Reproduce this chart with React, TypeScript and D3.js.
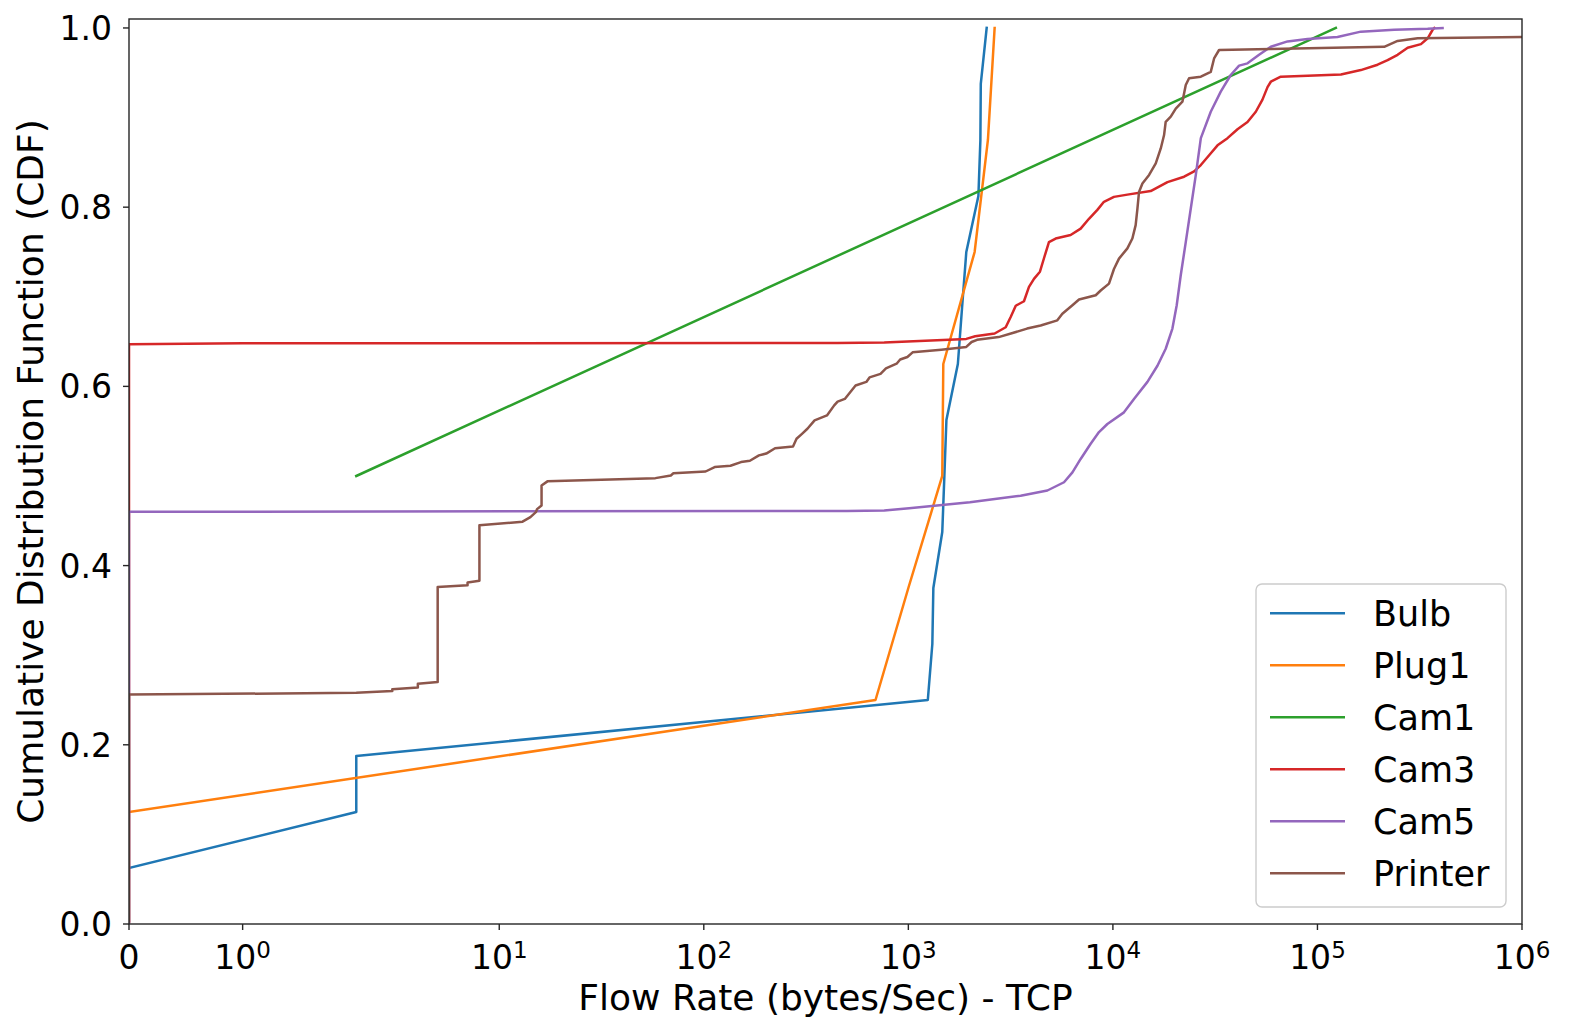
import React, { useEffect, useRef } from 'react';
import * as d3 from 'd3';

// CDF samples (x = bytes/sec, y = cumulative fraction)
const bulbX = [0, 2, 2, 1245, 1310, 1325, 1465, 1500, 1535, 1746, 1830, 1920, 2200, 2250, 2260, 2415];
const bulbY = [0.0625, 0.125, 0.1875, 0.25, 0.3125, 0.375, 0.4375, 0.5, 0.5625, 0.625, 0.6875, 0.75, 0.8125, 0.875, 0.9375, 1.0];

const plugX = [0, 691, 1000, 1465, 1482, 2109, 2449, 2641];
const plugY = [0.125, 0.25, 0.375, 0.5, 0.625, 0.75, 0.875, 1.0];

const cam1X = [2, 123000];
const cam1Y = [0.5, 1.0];

const cam3X = [0, 0, 1, 450, 762, 1920, 2122, 2642, 2992, 3164, 3350, 3675, 3888, 4113, 4399, 4603, 4868, 5249, 6214, 6956, 7639, 8395, 9040, 10120, 11770, 15300, 18480, 22290, 24950, 26910, 29540, 32470, 36330, 40660, 45500, 49960, 53850, 57000, 59160, 66200, 130300, 163000, 196800, 220300, 246500, 276000, 320700, 345900, 365800, 372700];
const cam3Y = [0.002, 0.647, 0.648, 0.6485, 0.649, 0.653, 0.656, 0.659, 0.666, 0.6775, 0.69, 0.695, 0.711, 0.72, 0.728, 0.743, 0.761, 0.765, 0.769, 0.776, 0.787, 0.797, 0.806, 0.8115, 0.814, 0.818, 0.828, 0.834, 0.84, 0.847, 0.858, 0.869, 0.877, 0.887, 0.895, 0.9065, 0.92, 0.934, 0.94, 0.9456, 0.948, 0.953, 0.959, 0.964, 0.97, 0.978, 0.982, 0.9885, 0.998, 1.0];

const cam5X = [0, 0, 500, 762, 1009, 2000, 2826, 3539, 4784, 5768, 6341, 6956, 7786, 8551, 9398, 11330, 12680, 14750, 16510, 18120, 19540, 20510, 21460, 22710, 24030, 25430, 26910, 30090, 33670, 37670, 41400, 45500, 51840, 59160, 71420, 89400, 125300, 163000, 237300, 345900, 409000];
const cam5Y = [0.002, 0.46, 0.461, 0.4615, 0.464, 0.4708, 0.4752, 0.478, 0.4838, 0.493, 0.504, 0.519, 0.536, 0.549, 0.558, 0.571, 0.586, 0.605, 0.623, 0.642, 0.6645, 0.6905, 0.724, 0.761, 0.7985, 0.836, 0.877, 0.9065, 0.929, 0.9475, 0.958, 0.9605, 0.97, 0.979, 0.985, 0.9877, 0.99, 0.9959, 0.998, 0.999, 1.0];

const printerX = [0, 0, 2, 3, 3, 4, 4, 5, 5, 7, 7, 8, 8, 13, 14.2, 15.1, 15.3, 16.1, 16.1, 17.2, 58, 69, 71, 102, 113, 135, 152, 168, 186, 202, 223, 273, 284, 302, 321, 348, 400, 434, 451, 489, 552, 623, 646, 731, 777, 876, 912, 989, 1049, 1449, 1920, 2038, 2167, 2763, 3234, 3805, 4434, 5350, 5660, 6340, 6830, 8240, 8715, 9570, 10120, 10710, 11770, 12450, 12920, 13180, 13420, 13940, 15030, 16200, 17140, 17790, 18120, 19180, 20290, 21870, 22710, 23570, 26910, 30090, 31240, 33040, 59160, 212000, 246500, 309000, 1000000];
const printerY = [0.003, 0.256, 0.258, 0.26, 0.262, 0.264, 0.268, 0.27, 0.376, 0.378, 0.381, 0.383, 0.445, 0.449, 0.454, 0.4596, 0.463, 0.467, 0.4894, 0.494, 0.4976, 0.5006, 0.503, 0.505, 0.51, 0.5114, 0.5155, 0.517, 0.523, 0.525, 0.531, 0.533, 0.5415, 0.547, 0.5527, 0.562, 0.5676, 0.5788, 0.583, 0.586, 0.601, 0.605, 0.61, 0.614, 0.62, 0.6253, 0.63, 0.6328, 0.638, 0.641, 0.644, 0.6495, 0.652, 0.655, 0.6596, 0.6645, 0.668, 0.6737, 0.681, 0.6905, 0.697, 0.7017, 0.707, 0.7147, 0.731, 0.7426, 0.754, 0.765, 0.78, 0.7985, 0.817, 0.8265, 0.836, 0.8488, 0.8655, 0.8805, 0.8953, 0.901, 0.91, 0.9177, 0.9363, 0.9438, 0.9456, 0.951, 0.966, 0.9754, 0.9765, 0.979, 0.9855, 0.9885, 0.99];

const seriesNames = ['Bulb', 'Plug1', 'Cam1', 'Cam3', 'Cam5', 'Printer'];
const seriesX = [bulbX, plugX, cam1X, cam3X, cam5X, printerX];
const seriesY = [bulbY, plugY, cam1Y, cam3Y, cam5Y, printerY];
const colors = ['#1f77b4', '#ff7f0e', '#2ca02c', '#d62728', '#9467bd', '#8c564b'];

const xTicks = [0, 1, 10, 100, 1000, 10000, 100000, 1000000];
const yTicks = [0, 0.2, 0.4, 0.6, 0.8, 1.0];

const WIDTH = 1570;
const HEIGHT = 1033;
const FONT = '"DejaVu Sans", sans-serif';

// matplotlib-style symlog (linthresh 2, linscale 1)
const LINTHRESH = 2;
const LINSCALE_ADJ = 1 / (1 - 1 / 10);
const symlog = (v: number) => {
  const a = Math.abs(v);
  if (a <= LINTHRESH) return v * LINSCALE_ADJ;
  return Math.sign(v) * LINTHRESH * (LINSCALE_ADJ + Math.log10(a / LINTHRESH));
};

const App: React.FC = () => {
  const svgRef = useRef<SVGSVGElement>(null);

  useEffect(() => {
    if (!svgRef.current) return;
    const svg = d3.select(svgRef.current);
    svg.selectAll('*').remove();

    const left = 129, right = 1522, top = 19, bottom = 924;

    const xLin = d3.scaleLinear().domain([symlog(0), symlog(1e6)]).range([left, right]);
    const x = (v: number) => xLin(symlog(v));
    const y = d3.scaleLinear().domain([0, 1.01]).range([bottom, top]);

    svg.append('rect').attr('width', WIDTH).attr('height', HEIGHT).attr('fill', '#fff');

    svg.append('defs').append('clipPath').attr('id', 'plot-clip')
      .append('rect')
      .attr('x', left).attr('y', top)
      .attr('width', right - left).attr('height', bottom - top);

    // Lines
    const line = d3.line<[number, number]>()
      .x(d => x(d[0]))
      .y(d => y(d[1]));

    const plot = svg.append('g').attr('clip-path', 'url(#plot-clip)');
    seriesX.forEach((xs, i) => {
      const pts: [number, number][] = xs.map((v, j) => [v, seriesY[i][j]]);
      plot.append('path')
        .attr('d', line(pts) as string)
        .attr('fill', 'none')
        .attr('stroke', colors[i])
        .attr('stroke-width', 2.5)
        .attr('stroke-linejoin', 'round')
        .attr('stroke-linecap', 'square');
    });

    // Spines
    svg.append('rect')
      .attr('x', left).attr('y', top)
      .attr('width', right - left).attr('height', bottom - top)
      .attr('fill', 'none')
      .attr('stroke', '#262626')
      .attr('stroke-width', 1.4);

    // X ticks
    const xg = svg.append('g');
    xTicks.forEach(t => {
      const px = x(t);
      xg.append('line')
        .attr('x1', px).attr('x2', px)
        .attr('y1', bottom).attr('y2', bottom + 6)
        .attr('stroke', '#262626').attr('stroke-width', 1.4);
      const label = xg.append('text')
        .attr('x', px)
        .attr('y', 969)
        .attr('text-anchor', 'middle')
        .attr('font-family', FONT)
        .attr('font-size', 33)
        .attr('fill', '#000');
      if (t === 0) {
        label.text('0');
      } else {
        label.append('tspan').text('10');
        label.append('tspan')
          .attr('dy', -11)
          .attr('font-size', 23)
          .text(String(Math.round(Math.log10(t))));
      }
    });

    // Y ticks
    const yg = svg.append('g');
    yTicks.forEach(t => {
      const py = y(t);
      yg.append('line')
        .attr('x1', left - 6).attr('x2', left)
        .attr('y1', py).attr('y2', py)
        .attr('stroke', '#262626').attr('stroke-width', 1.4);
      yg.append('text')
        .attr('x', left - 17)
        .attr('y', py + 12)
        .attr('text-anchor', 'end')
        .attr('font-family', FONT)
        .attr('font-size', 33)
        .attr('fill', '#000')
        .text(t.toFixed(1));
    });

    // Axis labels
    svg.append('text')
      .attr('x', (left + right) / 2)
      .attr('y', 1010)
      .attr('text-anchor', 'middle')
      .attr('font-family', FONT)
      .attr('font-size', 36)
      .text('Flow Rate (bytes/Sec) - TCP');

    svg.append('text')
      .attr('transform', `translate(43, ${(top + bottom) / 2}) rotate(-90)`)
      .attr('text-anchor', 'middle')
      .attr('font-family', FONT)
      .attr('font-size', 36)
      .text('Cumulative Distribution Function (CDF)');

    // Legend
    const lg = svg.append('g');
    lg.append('rect')
      .attr('x', 1256).attr('y', 584)
      .attr('width', 250).attr('height', 323)
      .attr('rx', 6)
      .attr('fill', '#fff').attr('fill-opacity', 0.8)
      .attr('stroke', '#cccccc').attr('stroke-width', 1.4);
    seriesNames.forEach((name, i) => {
      const ry = 613.3 + i * 52;
      lg.append('line')
        .attr('x1', 1270).attr('x2', 1345)
        .attr('y1', ry).attr('y2', ry)
        .attr('stroke', colors[i]).attr('stroke-width', 2.5);
      lg.append('text')
        .attr('x', 1373)
        .attr('y', ry + 12.5)
        .attr('font-family', FONT)
        .attr('font-size', 35)
        .attr('fill', '#000')
        .text(name);
    });
  }, []);

  return (
    <svg
      ref={svgRef}
      width={WIDTH}
      height={HEIGHT}
      style={{ position: 'absolute', left: 0, top: 0 }}
    ></svg>
  );
};

export default App;
